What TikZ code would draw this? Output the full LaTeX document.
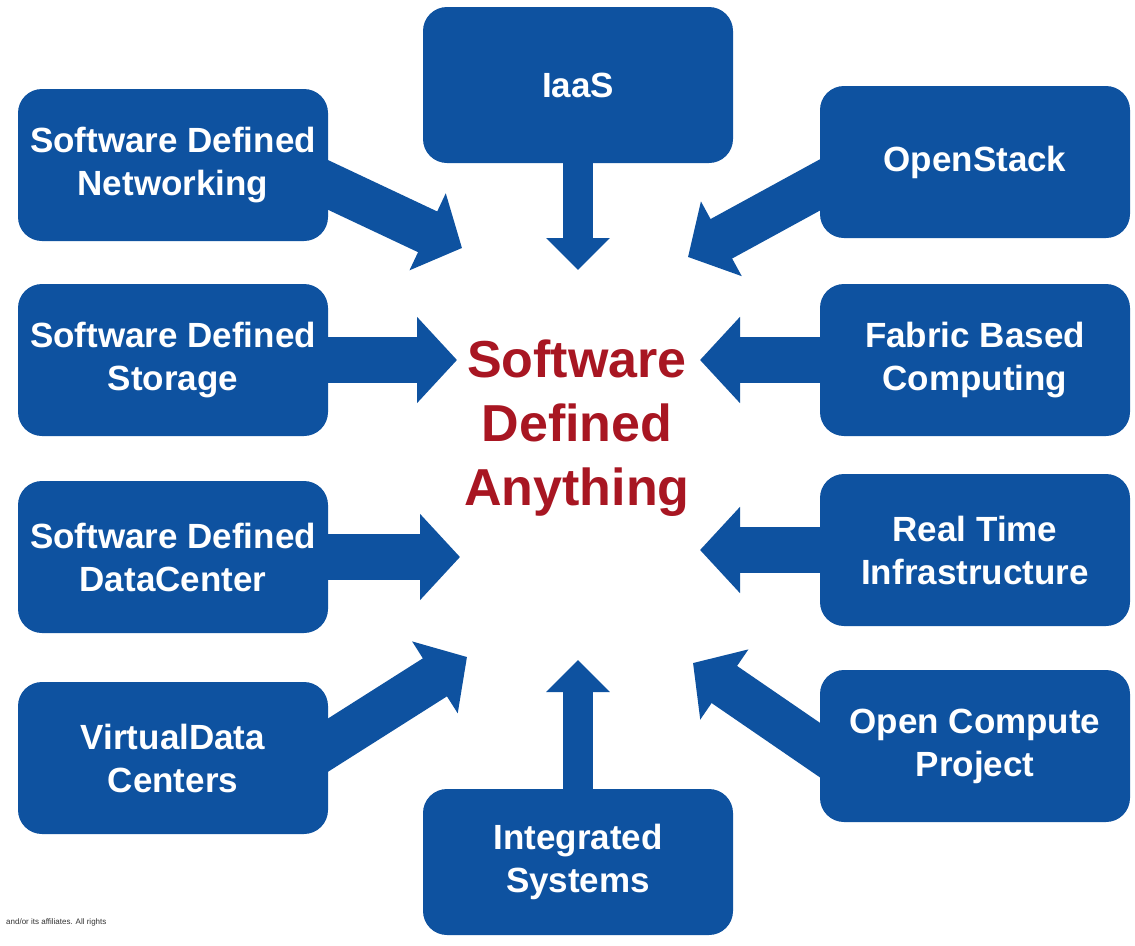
\documentclass[tikz,border=0pt]{standalone}
\usepackage{fontspec}
\setmainfont{Liberation Sans}
\usetikzlibrary{arrows.meta}
\definecolor{boxblue}{RGB}{14,82,160}
\definecolor{hubred}{RGB}{168,22,34}
\pgfdeclarelayer{bg}
\pgfsetlayers{bg,main}
\begin{document}
\begin{tikzpicture}[x=1pt,y=-1pt,
  box/.style={fill=boxblue, rounded corners=24pt, minimum width=310pt, minimum height=152pt,
    text=white, font=\fontsize{35}{43}\selectfont\bfseries, align=center, inner sep=0pt},
  harrow/.style={draw=boxblue, line width=46pt, shorten <=-30pt, -{Triangle[length=40pt,width=84pt]}},
  varrow/.style={draw=boxblue, line width=30pt, shorten <=-30pt, -{Triangle[length=32pt,width=62pt]}},
  darrow/.style={draw=boxblue, line width=45pt, shorten <=-40pt, -{Triangle[length=38pt,width=83pt]}}]
\useasboundingbox (0,0) rectangle (1135,945);
\coordinate (tIaaS) at (578,270);
\coordinate (tIS) at (578,660);
\coordinate (tSDS) at (457,360);
\coordinate (tFBC) at (700,360);
\coordinate (tSDDC) at (460,557);
\coordinate (tRTI) at (700,550);
\coordinate (tSDN) at (462,248);
\coordinate (tOS) at (688,257);
\coordinate (tVDC) at (467,657);
\coordinate (tOCP) at (693,663);
% boxes
\node[box, minimum height=156pt] (iaas) at (578,85) {IaaS};
\node[box] (sdn) at (173,165) {Software Defined\\Networking};
\node[box] (os) at (975,162) {OpenStack};
\node[box] (sds) at (173,360) {Software Defined\\Storage};
\node[box] (fbc) at (975,360) {Fabric Based\\Computing};
\node[box] (sddc) at (173,557) {Software Defined\\DataCenter};
\node[box] (rti) at (975,550) {Real Time\\Infrastructure};
\node[box] (vdc) at (173,758) {VirtualData\\Centers};
\node[box] (ocp) at (975,746) {Open Compute\\Project};
\node[box, minimum height=146pt] (isys) at (578,862) {Integrated\\Systems};
% connectors behind the boxes
\begin{pgfonlayer}{bg}
\fill[white] (0,0) rectangle (1135,945);
\draw[varrow] (iaas.south) -- (tIaaS);
\draw[varrow] (isys.north) -- (tIS);
\draw[harrow] (sds.east) -- (tSDS);
\draw[harrow] (fbc.west) -- (tFBC);
\draw[harrow] (sddc.east) -- (tSDDC);
\draw[harrow] (rti.west) -- (tRTI);
\draw[darrow] ([yshift=-20pt]sdn.east) -- (tSDN);
\draw[darrow] ([yshift=-23pt]os.west) -- (tOS);
\draw[darrow] ([yshift=13pt]vdc.east) -- (tVDC);
\draw[darrow] ([yshift=-4pt]ocp.west) -- (tOCP);
\end{pgfonlayer}
% hub text
\node[text=hubred, font=\fontsize{52}{64}\selectfont\bfseries, align=center] (hub) at (577,428)
  {Software\\Defined\\Anything};
\node[anchor=west, font=\fontsize{8}{9}\selectfont, text=black!80, inner sep=0pt] (foot) at (6,922)
  {and/or its affiliates. All rights};
\end{tikzpicture}
\end{document}
